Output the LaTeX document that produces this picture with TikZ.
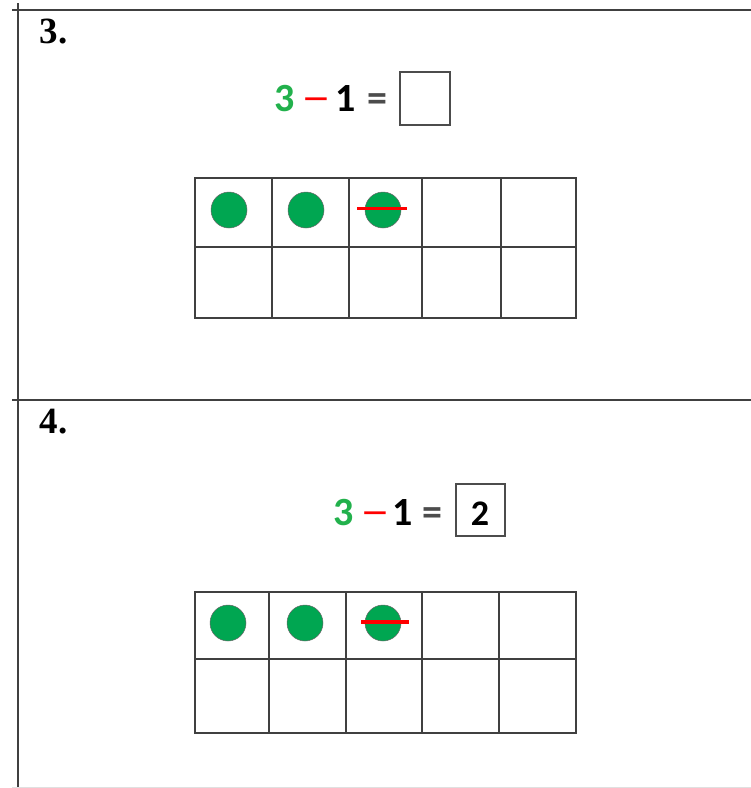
\documentclass[tikz,border=0pt]{standalone}
\usepackage{graphicx}
\usepackage{fontspec}
\setmainfont{Liberation Serif}
\newfontfamily\eqfont{Carlito}
\definecolor{countgreen}{RGB}{0,166,81}
\definecolor{sumgreen}{RGB}{34,177,76}
\newcommand{\takeaway}{\scalebox{1.5}[1.1]{–}}

\begin{document}
\begin{tikzpicture}[x=1pt,y=-1pt,
  rule/.style={line width=2pt, black!75},
  cell/.style={line width=1.2pt, black!75},
  counter/.style={circle, fill=countgreen, draw=black!60, line width=0.5pt, minimum size=36pt, inner sep=0pt},
  strike/.style={red, line width=3pt},
  sym/.style={anchor=base, font=\eqfont\bfseries\fontsize{40}{40}\selectfont},
  minus/.style={anchor=base, text=red, font=\eqfont\fontsize{40}{40}\selectfont},
  answer/.style={draw=black!70, line width=2pt, minimum width=50pt, minimum height=53pt, inner sep=0pt},
  itemno/.style={anchor=base west, font=\bfseries\fontsize{37}{37}\selectfont}]

\useasboundingbox (0,0) rectangle (751,788);

% frame of the two rows
\draw[rule] (18,3) -- (18,788);
\draw[rule] (12,10) -- (751,10);
\draw[rule] (12,400) -- (751,400);
\draw[black!12] (12,787) -- (751,787);

% row 3
\node[itemno] (no3) at (36,43) {3.};
\node[sym, text=sumgreen] (threeA) at (285,111) {3};
\node[minus] (minusA) at (316,111) {\takeaway};
\node[sym] (oneA) at (346,111) {1};
\node[sym, text=black!70] (eqA) at (377,111) {=};
\node[answer] (boxA) at (425,98) {};

\draw[cell] (195,178) rectangle (576,318);
\foreach \x in {272,349,422,501}
  \draw[cell] (\x,178) -- (\x,318);
\draw[cell] (195,247) -- (576,247);
\foreach \x [count=\i] in {229,306,383}
  \node[counter] (dotA\i) at (\x,210) {};
\draw[strike] (357,208) -- (407,208);

% row 4
\node[itemno] (no4) at (36,433) {4.};
\node[sym, text=sumgreen] (threeB) at (344,525) {3};
\node[minus] (minusB) at (375,525) {\takeaway};
\node[sym] (oneB) at (403,525) {1};
\node[sym, text=black!70] (eqB) at (432,525) {=};
\node[answer, minimum width=49pt, minimum height=52pt] (boxB) at (480,510) {};
\node[sym, font=\eqfont\bfseries\fontsize{36}{36}\selectfont] (twoB) at (480,525) {2};

\draw[cell] (195,592) rectangle (576,733);
\foreach \x in {269,346,422,499}
  \draw[cell] (\x,592) -- (\x,733);
\draw[cell] (195,659) -- (576,659);
\foreach \x [count=\i] in {228,305,383}
  \node[counter] (dotB\i) at (\x,623) {};
\draw[strike, line width=4pt] (361,622) -- (409,622);

\end{tikzpicture}
\end{document}
